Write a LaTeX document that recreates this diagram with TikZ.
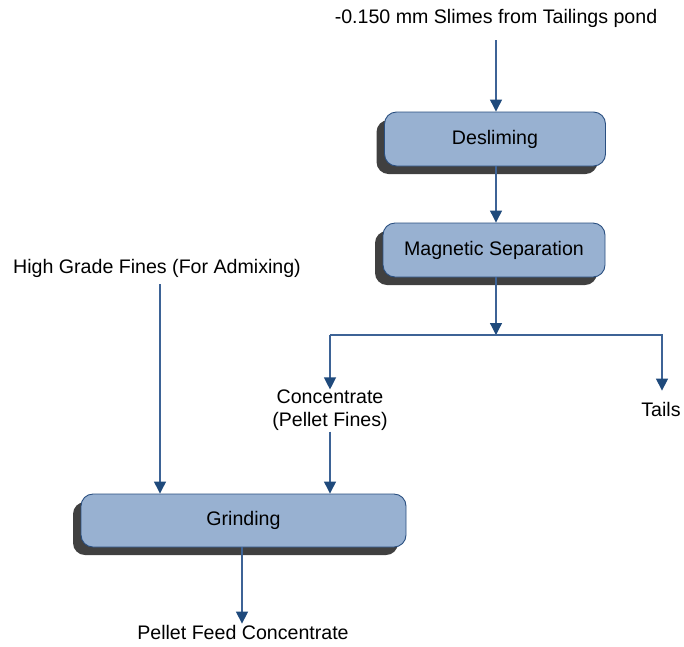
\documentclass[tikz,border=0pt]{standalone}
\usepackage{fontspec}
\setmainfont{Liberation Sans}
\usetikzlibrary{arrows.meta,shadows}
\definecolor{boxfill}{HTML}{98B1D1}
\definecolor{boxedge}{HTML}{2A4F80}
\definecolor{flowline}{HTML}{3D6396}
\definecolor{tipblue}{HTML}{1F4A7C}
\definecolor{shade}{HTML}{404040}
\tikzset{
  stage/.style={draw=boxedge, line width=0.9pt, fill=boxfill, rounded corners=12pt,
    inner sep=0pt, font=\fontsize{19.6}{23}\selectfont,
    drop shadow={shadow xshift=-8pt, shadow yshift=-8pt, fill=shade, opacity=1}},
  label/.style={inner sep=3pt, align=center, font=\fontsize{19.6}{23}\selectfont},
  flow/.style={draw=flowline, line width=1.2pt,
    -{Triangle[width=12pt,length=12pt,color=tipblue,fill=tipblue]}},
  trunk/.style={draw=flowline, line width=1.2pt}
}
\begin{document}
\begin{tikzpicture}[x=1pt,y=-1pt]
\useasboundingbox (0,0) rectangle (684,646);

% process stages
\node[stage, minimum width=221pt, minimum height=54pt] (des) at (495,139) {\raisebox{-2pt}{Desliming}};
\node[stage, minimum width=222pt, minimum height=54pt] (mag) at (494,250) {\raisebox{-2pt}{Magnetic Separation}};
\node[stage, minimum width=325pt, minimum height=53pt] (grind) at (243.5,520.5) {\raisebox{-2pt}{Grinding}};

% streams
\node[label] (slimes) at (496,18) {-0.150 mm Slimes from Tailings pond};
\node[label] (hgf) at (157,268) {High Grade Fines (For Admixing)};
\node[label] (conc) at (330,410) {Concentrate\\(Pellet Fines)};
\node[label] (tails) at (661,409) {Tails};
\node[label] (feed) at (243,632) {Pellet Feed Concentrate};

% guide lines for the vertical runs
\coordinate (xmain) at (496,0);
\coordinate (xhgf) at (160,0);
\coordinate (xtail) at (662,0);
\coordinate (xfeed) at (242,0);

% split point below magnetic separation
\coordinate (split) at (496,335);
\coordinate (cl) at (330,335);
\coordinate (cr) at (663,335);

% connectors
\draw[flow] ([yshift=-10pt]slimes.south -| xmain) -- (des.north -| xmain);
\draw[flow] (des.south -| xmain) -- (mag.north -| xmain);
\draw[flow] (mag.south -| xmain) -- (split);
\draw[trunk] (cl) -- (cr);
\draw[flow] (cl) -- ([yshift=-3pt]conc.north);
\draw[flow] (cl -| xtail) -- ([yshift=8pt]tails.north -| xtail);
\draw[flow] ([yshift=2pt]conc.south) -- (conc.south |- grind.north);
\draw[flow] ([yshift=-4pt]hgf.south -| xhgf) -- (grind.north -| xhgf);
\draw[flow] (grind.south -| xfeed) -- ([yshift=-2pt]feed.north -| xfeed);
\end{tikzpicture}
\end{document}
